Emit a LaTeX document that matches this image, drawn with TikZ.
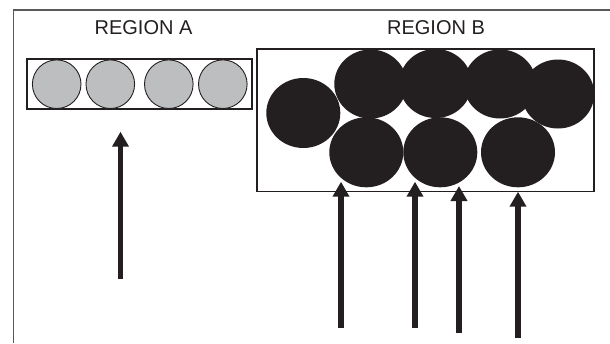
\documentclass[tikz,border=0pt]{standalone}
\usepackage{fontspec}
\setmainfont{Liberation Sans}
\usetikzlibrary{arrows.meta}

\definecolor{pelletgray}{HTML}{BCBEC0}
\definecolor{pelletblack}{HTML}{231F20}

\begin{document}
\begin{tikzpicture}[x=1pt, y=-1pt,
    regionlabel/.style={font=\fontsize{20}{24}\selectfont, text=pelletblack},
    regionbox/.style={draw=pelletblack, line width=1.6pt},
    push/.style={draw=pelletblack, line width=5.5pt, -{Triangle[length=15pt, width=16pt]}}]
    \useasboundingbox (0,0) rectangle (610,343);
    \draw[black!65, line width=1.2pt] (13.5,343) -- (13.5,10) -- (610,10);
    \node[regionlabel] (labelA) at (143.5,28) {REGION A};
    \node[regionlabel] (labelB) at (436,28) {REGION B};
    \draw[regionbox] (27,59) rectangle (252,109);
    \foreach \x in {56.7,110.3,168.8,222.8} \filldraw[fill=pelletgray, draw=pelletblack, line width=0.9pt] (\x,84.2) circle (24.3pt);
    \draw[regionbox] (257,49) rectangle (594,191.5);
    \foreach \x/\y in {370.5/84,435.5/83.5,500/84,558/94} \fill[pelletblack] (\x,\y) ellipse (36.2pt and 34.5pt);
    \foreach \x/\y in {303.3/113,366.3/152.3,440.3/152.3,518/152.3} \fill[pelletblack] (\x,\y) ellipse (37pt and 35pt);
    \coordinate (baseA) at (120.5,279.3);
    \coordinate (tipA) at (120.5,131.7);
    \draw[push] (baseA) -- (tipA);
    \foreach \n/\x/\t/\b in {1/341/181.7/328,2/415/181.7/328,3/459/186/333,4/518/191.7/338} {
        \coordinate (base\n) at (\x,\b);
        \coordinate (tip\n) at (\x,\t);
        \draw[push] (base\n) -- (tip\n);
    }
\end{tikzpicture}
\end{document}
